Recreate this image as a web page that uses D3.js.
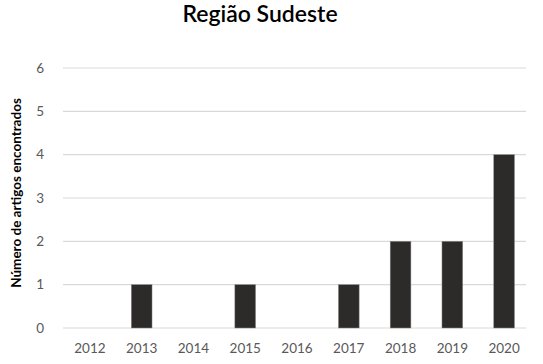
<!DOCTYPE html>
<html>
<head>
<meta charset="utf-8">
<script src="https://cdn.jsdelivr.net/npm/d3@7"></script>
<style>
  body { margin: 0; background: #fff; }
  text { font-family: Lato, "Open Sans", sans-serif; }
</style>
</head>
<body>
<div id="chart"></div>
<script>
// chart data
const years = ["2012", "2013", "2014", "2015", "2016", "2017", "2018", "2019", "2020"];
const counts = [0, 1, 0, 1, 0, 1, 2, 2, 4];
const yTicks = [0, 1, 2, 3, 4, 5, 6];

const width = 543,
  height = 364;

const svg = d3.select("#chart")
  .append("svg")
  .attr("width", width)
  .attr("height", height);

const x = d3.scaleBand()
  .domain(years)
  .range([64, 530])
  .paddingInner(0.6)
  .paddingOuter(0.3);

const y = d3.scaleLinear()
  .domain([0, 6])
  .range([328, 68]);

// gridlines
svg.append("g")
  .selectAll("line")
  .data(yTicks)
  .join("line")
  .attr("x1", 63)
  .attr("x2", 526)
  .attr("y1", d => y(d))
  .attr("y2", d => y(d))
  .attr("stroke", "#d9d9d9")
  .attr("stroke-width", 1.2);

// y tick labels
svg.append("g")
  .selectAll("text")
  .data(yTicks)
  .join("text")
  .attr("x", 44)
  .attr("y", d => y(d))
  .attr("dy", "0.35em")
  .attr("text-anchor", "end")
  .attr("fill", "#595959")
  .style("font-size", "13.5px")
  .text(d => d);

// bars
svg.append("g")
  .selectAll("rect")
  .data(years.map((yr, i) => ({ year: yr, value: counts[i] })))
  .join("rect")
  .attr("x", d => x(d.year))
  .attr("y", d => y(d.value))
  .attr("width", x.bandwidth())
  .attr("height", d => y(0) - y(d.value))
  .attr("fill", "#2d2b29")
  .attr("stroke", "#8a8a8a")
  .attr("stroke-width", 0.5);

// x tick labels
svg.append("g")
  .selectAll("text")
  .data(years)
  .join("text")
  .attr("x", d => x(d) + x.bandwidth() / 2)
  .attr("y", 353)
  .attr("text-anchor", "middle")
  .attr("fill", "#595959")
  .style("font-size", "13.5px")
  .text(d => d);

// title
svg.append("text")
  .attr("x", 260)
  .attr("y", 22)
  .attr("text-anchor", "middle")
  .attr("fill", "#000")
  .style("font-size", "23px")
  .style("font-weight", "600")
  .text("Região Sudeste");

// y axis label
svg.append("text")
  .attr("transform", "translate(21, 193) rotate(-90)")
  .attr("text-anchor", "middle")
  .attr("fill", "#000")
  .style("font-size", "13.5px")
  .style("font-weight", "bold")
  .text("Número de artigos encontrados");
</script>
</body>
</html>
